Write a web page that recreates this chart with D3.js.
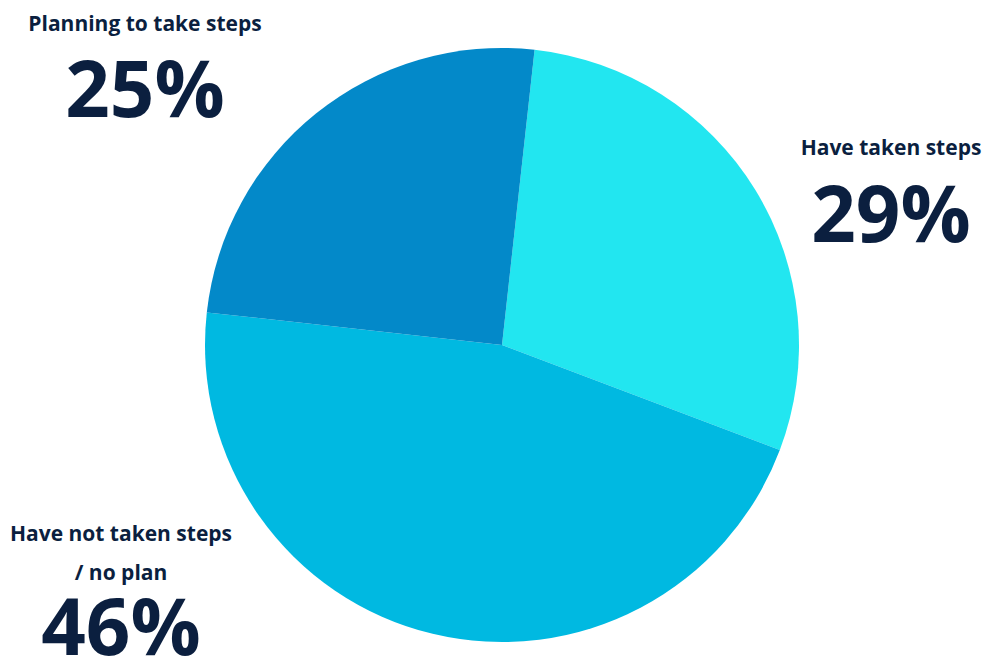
<!DOCTYPE html>
<html><head><meta charset="utf-8">
<script src="https://cdn.jsdelivr.net/npm/d3@7"></script>
<style>html,body{margin:0;padding:0;background:#fff;overflow:hidden}</style>
</head><body>
<svg id="chart" width="983" height="658"></svg>
<script>
const categories = ["Have taken steps", "Have not taken steps / no plan", "Planning to take steps"];
const values = [29, 46, 25];
const colors = ["#22E6F0", "#00B9E1", "#0389C9"];
const labelLines = [["Have taken steps"], ["Have not taken steps", "/ no plan"], ["Planning to take steps"]];

const svg = d3.select("#chart");
const cx = 502, cy = 345, r = 297;
const startDeg = 6.3;
const pie = d3.pie().sort(null).value(d => d)
  .startAngle(startDeg * Math.PI / 180).endAngle(startDeg * Math.PI / 180 + 2 * Math.PI);
const arc = d3.arc().innerRadius(0).outerRadius(r);
const g = svg.append("g").attr("transform", `translate(${cx},${cy})`);
g.selectAll("path").data(pie(values)).join("path")
  .attr("d", arc).attr("fill", (d, i) => colors[i]);

const labelPos = [
  {x: 891, y: 155, pctY: 242},
  {x: 121, y: 541, pctY: 655},
  {x: 145, y: 31, pctY: 117}
];
const font = "'Open Sans', sans-serif";
labelLines.forEach((lines, i) => {
  const p = labelPos[i];
  lines.forEach((t, j) => {
    svg.append("text").attr("x", p.x).attr("y", p.y + j * 39)
      .attr("text-anchor", "middle").attr("font-family", font).attr("font-weight", 700)
      .attr("font-size", 21).attr("fill", "#0B1F3F").text(t);
  });
  svg.append("text").attr("x", p.x).attr("y", p.pctY)
    .attr("text-anchor", "middle").attr("font-family", font).attr("font-weight", 700)
    .attr("font-size", 78).attr("fill", "#0B1F3F").text(values[i] + "%");
});
</script>
</body></html>
